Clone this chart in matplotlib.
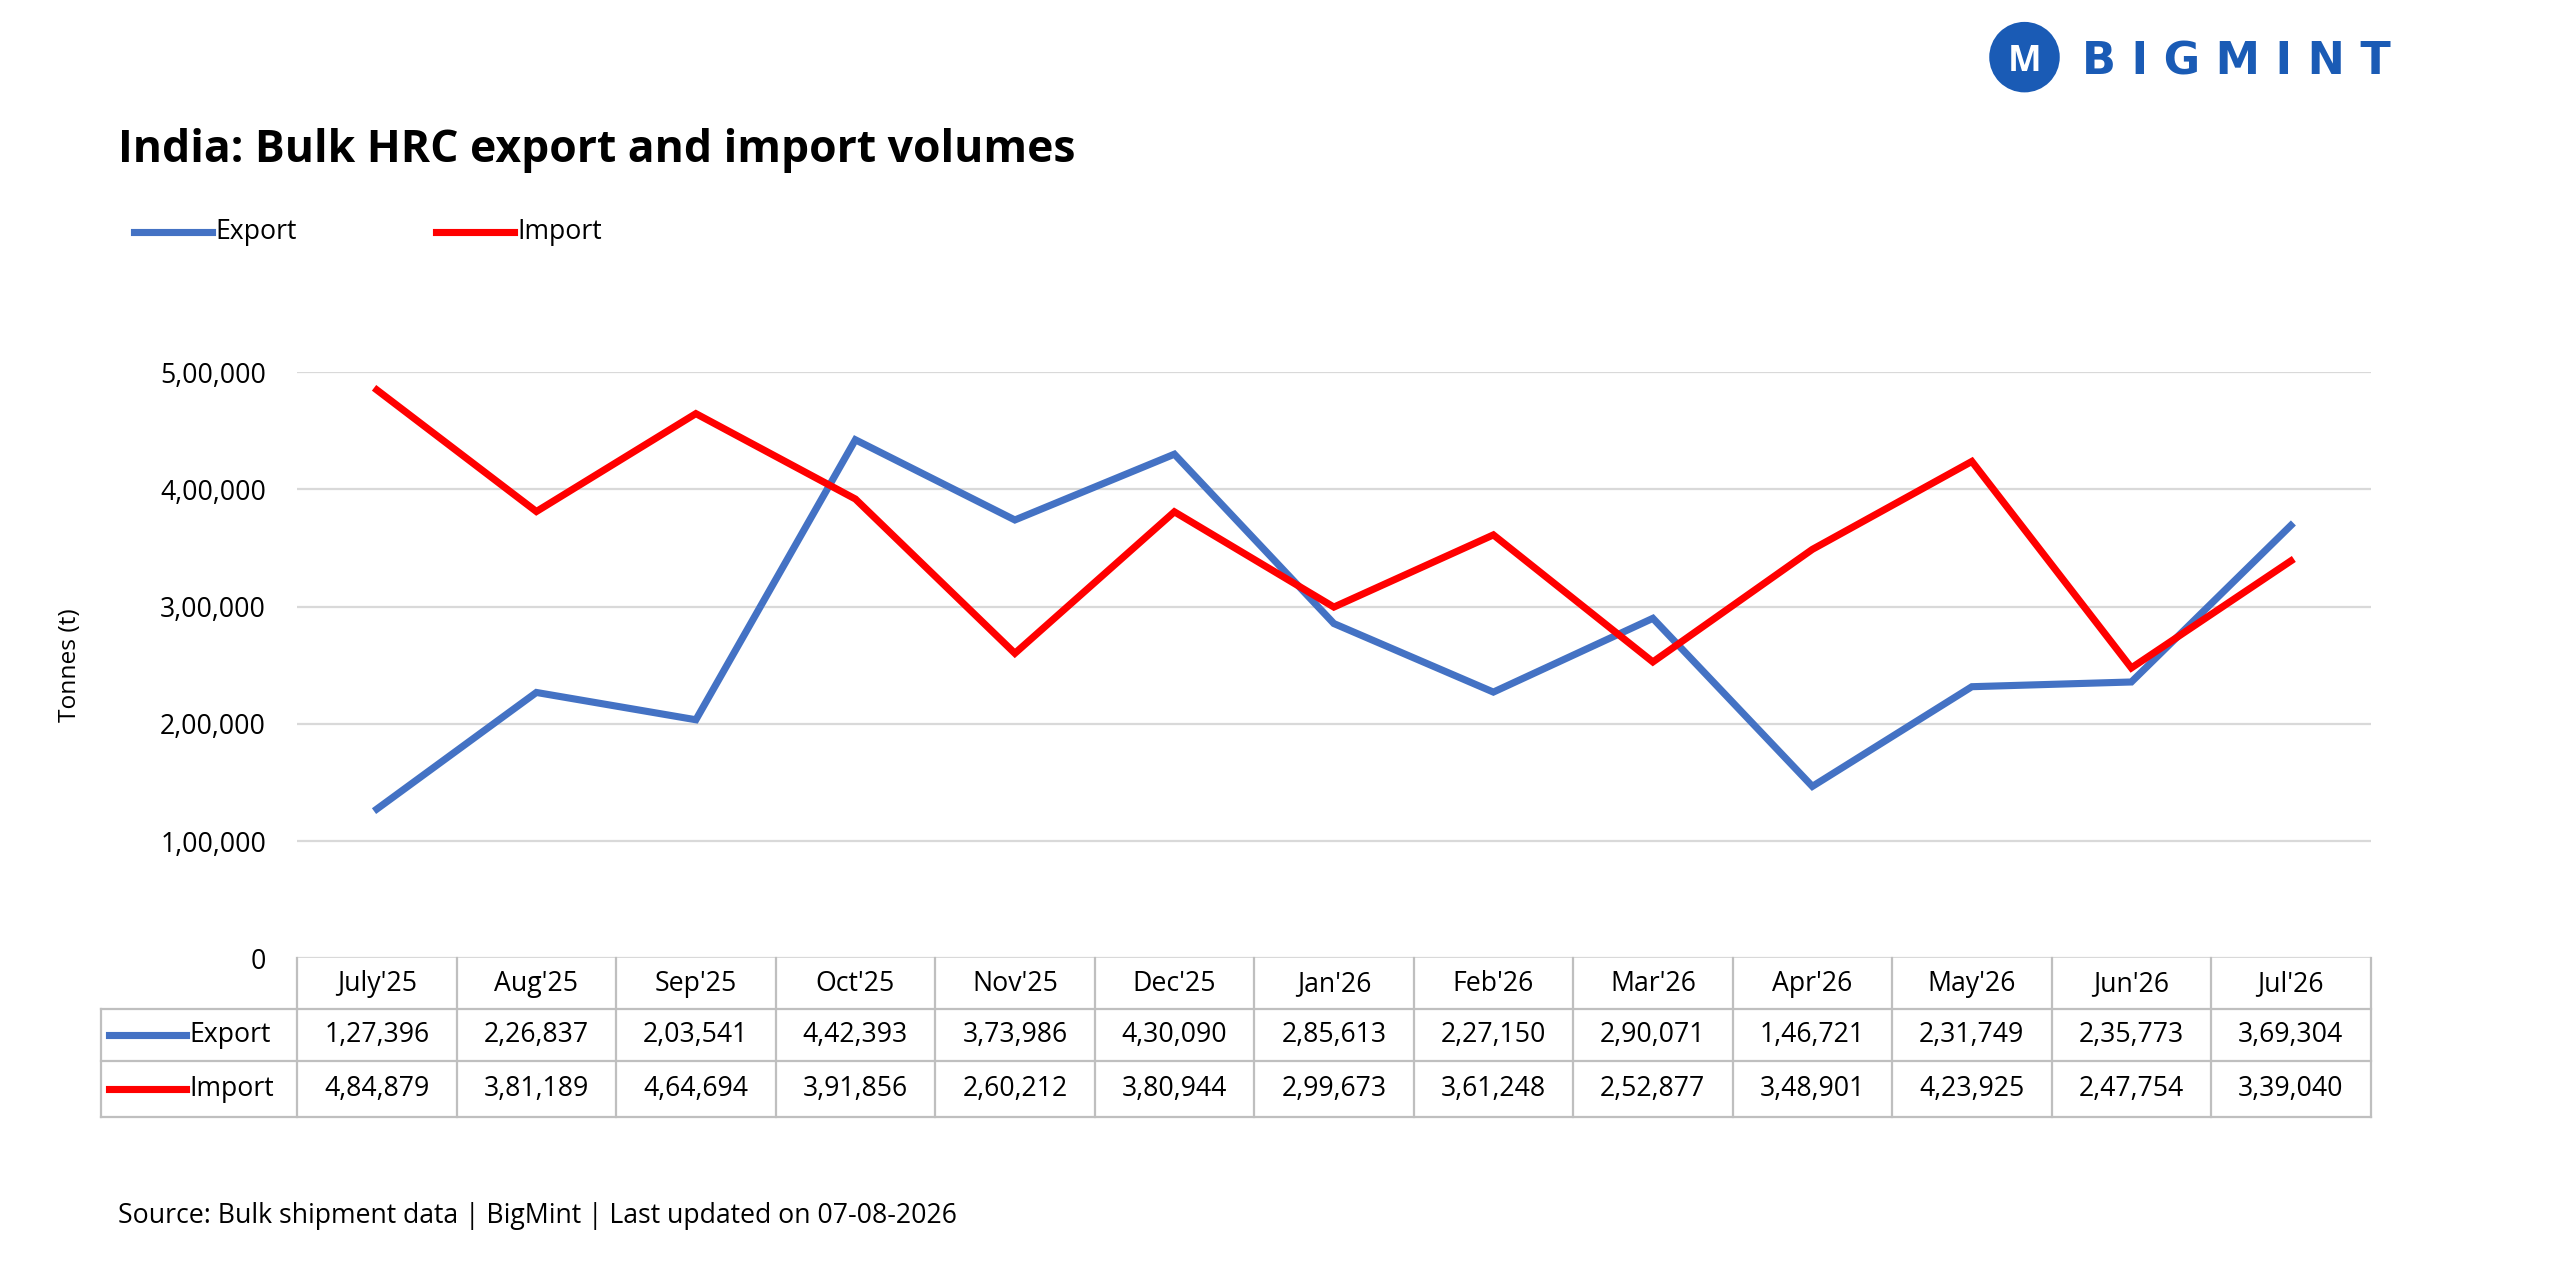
import matplotlib
matplotlib.use("Agg")
import matplotlib.pyplot as plt
from matplotlib.patches import Circle

months = ["July'25","Aug'25","Sep'25","Oct'25","Nov'25","Dec'25","Jan'26","Feb'26","Mar'26","Apr'26","May'26","Jun'26","Jul'26"]
export = [127396,226837,203541,442393,373986,430090,285613,227150,290071,146721,231749,235773,369304]
imports = [484879,381189,464694,391856,260212,380944,299673,361248,252877,348901,423925,247754,339040]
yticks = [0,100000,200000,300000,400000,500000]

def indian(n):
    s = str(int(n))
    if len(s) <= 3: return s
    last = s[-3:]; rest = s[:-3]
    parts = []
    while len(rest) > 2:
        parts.insert(0, rest[-2:]); rest = rest[:-2]
    if rest: parts.insert(0, rest)
    return ",".join(parts + [last])

plt.rcParams['font.family'] = ['Open Sans', 'DejaVu Sans']
BLUE = "#4472C4"; RED = "#FF0000"
FS = 12
fig = plt.figure(figsize=(16, 8), dpi=160)
W, H = 1568, 784
ax = fig.add_axes([182/W, 1-587/H, 1270/W, 359/H])
x = list(range(len(months)))
ax.plot(x, export, color=BLUE, lw=3.2, solid_joinstyle='miter')
ax.plot(x, imports, color=RED, lw=3.2, solid_joinstyle='miter')
ax.set_xlim(-0.5, len(months)-0.5)
ax.set_ylim(0, 500000)
ax.set_yticks(yticks)
ax.set_yticklabels([indian(v) for v in yticks], fontsize=FS)
ax.tick_params(axis='y', length=0, pad=14)
ax.set_xticks([])
for s in ax.spines.values(): s.set_visible(False)
ax.grid(axis='y', color='#D9D9D9', lw=1)
ax.set_axisbelow(True)
ax.set_ylabel("Tonnes (t)", fontsize=11)
ax.yaxis.set_label_coords(-(182-50)/1270, 0.5)

# table
ah = 359.0
rows = [(587, 618), (618, 650), (650, 684)]
cw = 1.0/len(months)
lx = -120/1270
lc = '#BFBFBF'
for (t, b) in rows:
    yb = -(b-587)/ah
    ax.plot([0 if t == 587 else lx, 1], [yb, yb], transform=ax.transAxes, color=lc, lw=1, clip_on=False)
for i in range(len(months)+1):
    ax.plot([i*cw, i*cw], [0, -(684-587)/ah], transform=ax.transAxes, color=lc, lw=1, clip_on=False)
ax.plot([lx, lx], [-(618-587)/ah, -(684-587)/ah], transform=ax.transAxes, color=lc, lw=1, clip_on=False)
ax.plot([lx, 0], [-(618-587)/ah]*2, transform=ax.transAxes, color=lc, lw=1, clip_on=False)
def rc(r): return -((rows[r][0]+rows[r][1])/2-587)/ah
for i, m in enumerate(months):
    cx = (i+0.5)*cw
    ax.text(cx, rc(0), m, transform=ax.transAxes, ha='center', va='center', fontsize=FS)
    ax.text(cx, rc(1), indian(export[i]), transform=ax.transAxes, ha='center', va='center', fontsize=FS)
    ax.text(cx, rc(2), indian(imports[i]), transform=ax.transAxes, ha='center', va='center', fontsize=FS)
for r, (lab, col) in zip([1, 2], [("Export", BLUE), ("Import", RED)]):
    ax.plot([lx+5/1270, lx+52/1270], [rc(r)]*2, transform=ax.transAxes, color=col, lw=3.2, clip_on=False)
    ax.text(lx+54/1270, rc(r), lab, transform=ax.transAxes, ha='left', va='center', fontsize=FS)

# title, legend, source
fig.text(72/W, 1-92/H, "India: Bulk HRC export and import volumes", fontsize=20, fontweight='bold', va='center')
for (x0, lab, col) in [(82, "Export", BLUE), (267, "Import", RED)]:
    fig.add_artist(plt.Line2D([x0/W, (x0+48)/W], [1-142/H]*2, color=col, lw=3.2))
    fig.text((x0+50)/W, 1-142/H, lab, fontsize=FS, va='center')
fig.text(72/W, 1-745/H, "Source: Bulk shipment data | BigMint | Last updated on 07-08-2026", fontsize=FS, va='center')

# logo
lax = fig.add_axes([1215/W, 1-58/H, 50/W, 46/H]); lax.set_aspect('equal'); lax.axis('off')
lax.set_xlim(-1.1, 1.1); lax.set_ylim(-1.1, 1.1)
lax.add_patch(Circle((0, 0), 1, color='#1A5BB5'))
lax.text(0, -0.15, "M", color='white', fontsize=16, fontweight='bold', ha='center', va='center')
fig.text(1275/W, 1-38/H, "B I G M I N T", color='#1A5BB5', fontsize=20, fontweight='heavy', va='center',
         family=['DejaVu Sans'])
fig.savefig("out.png", dpi=160)
